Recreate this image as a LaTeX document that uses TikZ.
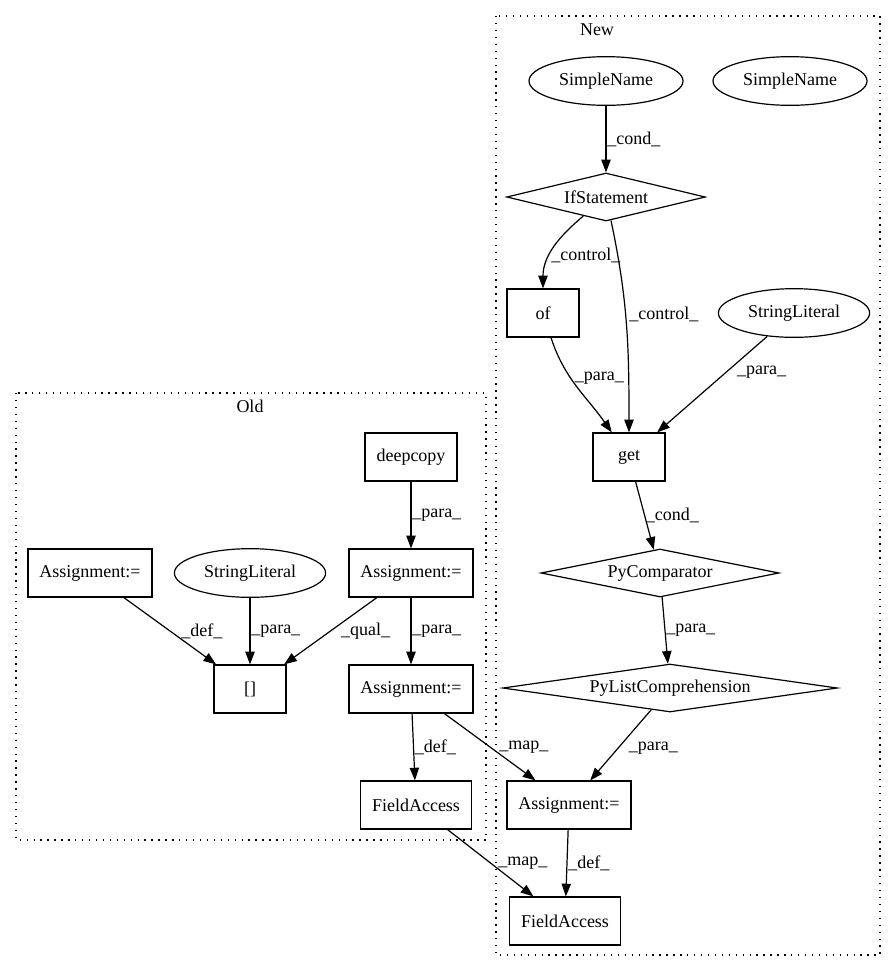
\documentclass[tikz,border=0pt]{standalone}
\usepackage{fontspec}
\setmainfont{Liberation Serif}
\usetikzlibrary{arrows.meta, shapes.geometric}

\begin{document}
\begin{tikzpicture}[x=0.75pt, y=-0.75pt, font=\fontsize{13.5}{16}\selectfont,
    box/.style={draw, line width=0.9pt, minimum width=54pt, minimum height=36pt, inner xsep=8.6pt},
    oval/.style={draw, ellipse, line width=0.9pt, minimum height=36.5pt, inner xsep=5.6pt, inner ysep=0pt},
    dia/.style={draw, diamond, aspect=6, inner sep=0pt, line width=0.9pt, minimum height=36pt},
    edge/.style={line width=0.9pt, -{Triangle[length=9.5pt, width=7pt]}},
    lab/.style={anchor=west, inner sep=0.5pt},
    cluster/.style={line width=0.9pt, dash pattern=on 1pt off 4.2pt}]
        \useasboundingbox (0,0) rectangle (896,972);
        \draw[cluster] (496,16) rectangle (880,955);
        \draw[cluster] (16,393) rectangle (486,840);
        \node (newlbl) at (597,30) {New};
        \node (oldlbl) at (250,406) {Old};

        \node[oval] (sn1) at (606,81) {SimpleName};
        \node[oval] (sn2) at (790,81) {SimpleName};
        \node[dia, minimum width=149pt] (ifst) at (606,197) {IfStatement};
        \node[box] (of) at (543,313) {of};
        \node[oval] (slnew) at (794,313) {StringLiteral};
        \node[box] (get) at (629,457) {get};
        \node[dia, minimum width=178.5pt] (pycomp) at (660,573) {PyComparator};
        \node[dia, minimum width=251pt] (pylist) at (670,688) {PyListComprehension};
        \node[box] (asnew) at (569,805) {Assignment:=};
        \node[box] (fanew) at (565,921) {FieldAccess};

        \node[box] (deepcopy) at (411,457) {deepcopy};
        \node[box] (asleft) at (90,573) {Assignment:=};
        \node[oval] (slold) at (250,573) {StringLiteral};
        \node[box] (astop) at (411,573) {Assignment:=};
        \node[box] (brack) at (250,689) {[]};
        \node[box] (asmid) at (411,689) {Assignment:=};
        \node[box] (faold) at (416,805) {FieldAccess};

        \draw[edge] (sn1) -- node[lab, pos=.5] {\_cond\_} (ifst);
        \draw[edge] (ifst) to[out=-140, in=90] node[lab, pos=.6] {\_control\_} (of);
        \draw[edge] (ifst) to[out=-78, in=90] node[lab, pos=.44, xshift=2pt] {\_control\_} (get);
        \draw[edge] (of) to[out=-72, in=125] node[lab, pos=.4, xshift=2pt] {\_para\_} (get);
        \draw[edge] (slnew) -- node[lab, pos=.37, xshift=7pt] {\_para\_} (get);
        \draw[edge] (get) -- node[lab, pos=.5] {\_cond\_} (pycomp);
        \draw[edge] (pycomp) -- node[lab, pos=.5] {\_para\_} (pylist);
        \draw[edge] (pylist) -- node[lab, pos=.55, xshift=7.5pt] {\_para\_} (asnew);
        \draw[edge] (asnew) -- node[lab, pos=.5] {\_def\_} (fanew);

        \draw[edge] (deepcopy) -- node[lab, pos=.5] {\_para\_} (astop);
        \draw[edge] (asleft) -- node[lab, pos=.5, xshift=7.5pt] {\_def\_} (brack);
        \draw[edge] (slold) -- node[lab, pos=.5] {\_para\_} (brack);
        \draw[edge] (astop) -- node[lab, pos=.5, xshift=7pt] {\_qual\_} (brack);
        \draw[edge] (astop) -- node[lab, pos=.5] {\_para\_} (asmid);
        \draw[edge] (asmid) -- node[lab, pos=.5] {\_def\_} (faold);
        \draw[edge] (asmid) -- node[lab, pos=.5, xshift=6pt] {\_map\_} (asnew);
        \draw[edge] (faold) -- node[lab, pos=.5, xshift=5pt] {\_map\_} (fanew);
      \end{tikzpicture}
\end{document}
